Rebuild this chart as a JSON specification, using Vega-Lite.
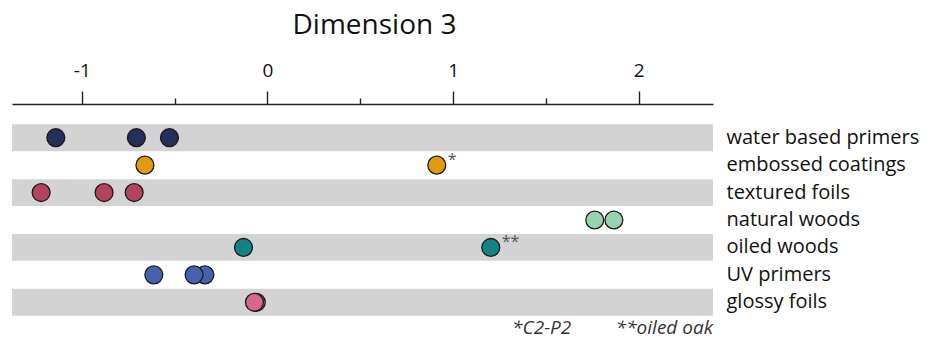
{
  "$schema": "https://vega.github.io/schema/vega-lite/v6.json",
  "width": 701,
  "height": 192,
  "autosize": {"type": "none"},
  "padding": {"left": 12, "top": 124, "right": 220, "bottom": 25},
  "background": "white",
  "config": {
    "font": "Open Sans",
    "view": {"stroke": null}
  },
  "title": {
    "text": "*C2-P2\u00a0\u00a0\u00a0\u00a0\u00a0\u00a0\u00a0\u00a0\u00a0**oiled oak",
    "orient": "bottom",
    "anchor": "end",
    "frame": "group",
    "fontSize": 19,
    "fontStyle": "italic",
    "fontWeight": "normal",
    "color": "#333333",
    "offset": 3
  },
  "datasets": {
    "points": [
      {"material": "water based primers", "dim3": -1.140},
      {"material": "water based primers", "dim3": -0.706},
      {"material": "water based primers", "dim3": -0.528},
      {"material": "embossed coatings", "dim3": -0.660},
      {"material": "embossed coatings", "dim3": 0.912, "note": "*"},
      {"material": "textured foils", "dim3": -1.219},
      {"material": "textured foils", "dim3": -0.880},
      {"material": "textured foils", "dim3": -0.718},
      {"material": "natural woods", "dim3": 1.866},
      {"material": "natural woods", "dim3": 1.763},
      {"material": "oiled woods", "dim3": -0.129},
      {"material": "oiled woods", "dim3": 1.203, "note": "**"},
      {"material": "UV primers", "dim3": -0.612},
      {"material": "UV primers", "dim3": -0.337},
      {"material": "UV primers", "dim3": -0.395},
      {"material": "glossy foils", "dim3": -0.060},
      {"material": "glossy foils", "dim3": -0.070}
    ],
    "bands": [
      {"material": "water based primers"},
      {"material": "textured foils"},
      {"material": "oiled woods"},
      {"material": "glossy foils"}
    ]
  },
  "encoding": {
    "y": {
      "field": "material",
      "type": "nominal",
      "scale": {
        "domain": ["water based primers", "embossed coatings", "textured foils", "natural woods", "oiled woods", "UV primers", "glossy foils"],
        "paddingInner": 0.02,
        "paddingOuter": 0.01
      },
      "axis": {
        "orient": "right",
        "title": null,
        "ticks": false,
        "domain": false,
        "labelPadding": 13,
        "labelFontSize": 20,
        "labelLimit": 0,
        "labelColor": "#111111",
        "labelAlign": "left"
      }
    }
  },
  "layer": [
    {
      "data": {"name": "bands"},
      "mark": {"type": "rect", "color": "#D3D3D3"},
      "encoding": {
        "x": {
          "datum": -1.376,
          "type": "quantitative",
          "scale": {"domain": [-1.376, 2.4], "nice": false, "zero": false},
          "axis": {
            "orient": "top",
            "values": [-1, 0, 1, 2],
            "labelExpr": "'' + datum.value",
            "title": "Dimension 3",
            "titleFontSize": 28,
            "titleFontWeight": "normal",
            "titleColor": "#111111",
            "titlePadding": 22,
            "titleX": 362,
            "labelFontSize": 19,
            "labelColor": "#111111",
            "labelPadding": 11,
            "tickSize": 13,
            "tickColor": "#222222",
            "tickWidth": 1.4,
            "domainColor": "#222222",
            "domainWidth": 1.6,
            "grid": false,
            "offset": 20
          }
        },
        "x2": {"datum": 2.4}
      }
    },
    {
      "data": {"name": "points"},
      "mark": {"type": "circle", "size": 320, "opacity": 1, "stroke": "#1a1a1a", "strokeWidth": 1.3},
      "encoding": {
        "x": {
          "field": "dim3",
          "type": "quantitative",
          "axis": {
            "orient": "top",
            "values": [-0.5, 0.5, 1.5],
            "labels": false,
            "title": null,
            "domain": false,
            "grid": false,
            "tickSize": 6,
            "tickColor": "#222222",
            "tickWidth": 1.4,
            "offset": 20
          }
        },
        "color": {
          "field": "material",
          "type": "nominal",
          "legend": null,
          "scale": {
            "domain": ["water based primers", "embossed coatings", "textured foils", "natural woods", "oiled woods", "UV primers", "glossy foils"],
            "range": ["#22305A", "#E09A10", "#B4445E", "#98D3B0", "#138383", "#4760B0", "#D8688A"]
          }
        }
      }
    },
    {
      "data": {"name": "points"},
      "transform": [{"filter": "isValid(datum.note)"}],
      "mark": {"type": "text", "align": "left", "baseline": "middle", "dx": 11, "dy": -5, "fontSize": 16, "color": "#555555"},
      "encoding": {
        "x": {"field": "dim3", "type": "quantitative", "axis": null},
        "text": {"field": "note", "type": "nominal"}
      }
    }
  ],
  "resolve": {"axis": {"x": "independent"}}
}
